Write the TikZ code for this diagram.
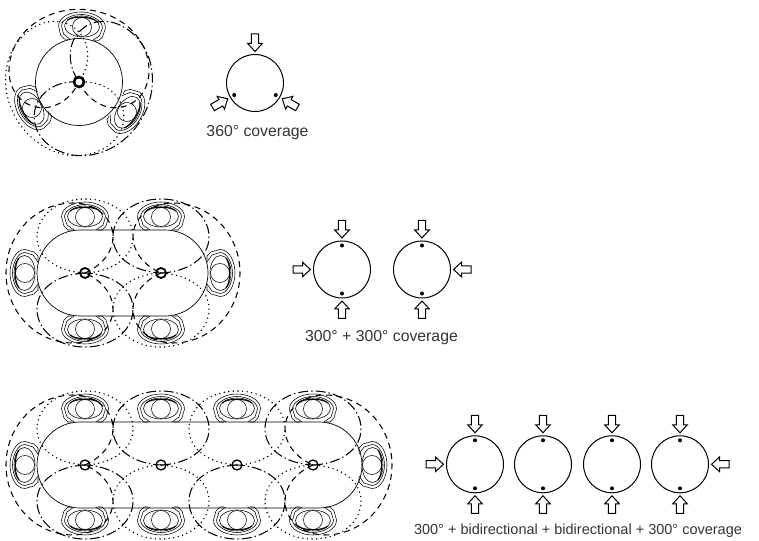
\documentclass[tikz,border=0pt]{standalone}
\usepackage{fontspec}
\setmainfont{Liberation Sans}
\begin{document}
\begin{tikzpicture}[x=1pt, y=1pt,
    table/.style={line width=0.7pt},
    mic/.style={circle, draw, inner sep=0pt, minimum size=10pt, line width=1.8pt},
    covcircle/.style={circle, draw, inner sep=0pt, minimum size=57pt, line width=1pt},
    caption/.style={text=black!80, font=\fontsize{15.8}{18}\selectfont, inner sep=0pt},
    dashlobe/.style={line width=1.05pt, dash pattern=on 6pt off 4.5pt},
    dotlobe/.style={line width=1.6pt, line cap=round, dash pattern=on 0pt off 4.6pt},
    dashdotlobe/.style={line width=1.05pt, dash pattern=on 10pt off 3pt on 1.4pt off 3pt},
    pics/seat/.style={code={
      \draw[line width=0.55pt] (0,0) circle (9.5pt);
      \draw[line width=0.55pt] (0,0.5) ellipse (17.5pt and 10.5pt);
      \draw[line width=0.55pt] (-23.5,0) .. controls (-23.5,9) and (-12,15) .. (0,15)
        .. controls (12,15) and (23.5,9) .. (23.5,0) -- (21,-9) -- (17,-13) -- (13,-13);
      \draw[line width=0.55pt] (-23.5,0) -- (-21,-9) -- (-17,-13) -- (-13,-13);
      \draw[line width=0.55pt] (-20.5,0) .. controls (-20.5,7) and (-10,12.5) .. (0,12.5)
        .. controls (10,12.5) and (20.5,7) .. (20.5,0) -- (18,-8) -- (11,-13);
      \draw[line width=0.55pt] (-20.5,0) -- (-18,-8) -- (-11,-13);
      \draw[line width=1.1pt] (-15,6) .. controls (-9,11) and (9,11) .. (15,6);
    }},
    pics/lobeup/.style={code={
      \draw (0,0) .. controls (25,1) and (48,14) .. (48,36)
        .. controls (48,58) and (27,74) .. (0,74)
        .. controls (-27,74) and (-48,58) .. (-48,36)
        .. controls (-48,14) and (-25,1) .. cycle;
    }},
    pics/lobewide/.style={code={
      \draw (0,0) .. controls (8,-18) and (22,-28) .. (36,-28)
        .. controls (56,-28) and (70,-10) .. (70,12)
        .. controls (70,50) and (38,79) .. (0,79)
        .. controls (-38,79) and (-70,50) .. (-70,12)
        .. controls (-70,-10) and (-56,-28) .. (-36,-28)
        .. controls (-22,-28) and (-8,-18) .. cycle;
    }},
    pics/inarrow/.style={code={
      \draw[line width=1pt] (31.5,0) -- (39.5,7.3) -- (39.5,3.7) -- (49,3.7)
        -- (49,-3.7) -- (39.5,-3.7) -- (39.5,-7.3) -- cycle;
    }},
    pics/micdot/.style={code={
      \fill (24,0) circle (2pt);
    }}]
  \useasboundingbox (0,0) rectangle (759,540);

  % one table, three seats
  \draw[table] (79,458) circle (43.5pt);
  \coordinate (mica) at (79,458);
  \pic[rotate=-3] at (82,513) {seat};
  \pic[rotate=119] at (32,432) {seat};
  \pic[rotate=-122] at (127,428) {seat};
  \pic[dashlobe, yscale=0.92] at (mica) {lobewide};
  \pic[dotlobe, rotate=120, yscale=0.92] at (mica) {lobewide};
  \pic[dashdotlobe, rotate=-120, yscale=0.92] at (mica) {lobewide};
  \node[mic, fill=white, line width=2.6pt] (micring) at (mica) {};

  \node[covcircle] (cova) at (255,457) {};
  \foreach \a in {90,210,330}
    \pic[rotate=\a] at (cova) {inarrow};
  \foreach \a in {210,330}
    \pic[rotate=\a] at (cova) {micdot};
  \node[caption] (capa) at (257.5,407) {360° coverage};

  % two mics
  \draw[table, rounded corners=43pt] (37,224) rectangle (208,310);
  \foreach \n/\x in {b/85,c/161} {
    \node[mic] (mic\n) at (\x,267) {};
    \pic at (\x,323) {seat};
    \pic[rotate=180] at (\x,211) {seat};
  }
  \pic[rotate=90] at (25,267) {seat};
  \pic[rotate=-90] at (220,267) {seat};
  \pic[dashlobe, rotate=90] at (micb) {lobewide};
  \pic[dotlobe] at (micb) {lobeup};
  \pic[dashdotlobe, rotate=180] at (micb) {lobeup};
  \pic[dashlobe, rotate=-90] at (micc) {lobewide};
  \pic[dashdotlobe] at (micc) {lobeup};
  \pic[dotlobe, rotate=180] at (micc) {lobeup};

  \foreach \n/\x/\s in {b/342/180,c/422/0} {
    \node[covcircle] (cov\n) at (\x,270.5) {};
    \foreach \a in {90,\s,270}
      \pic[rotate=\a] at (cov\n) {inarrow};
    \foreach \a in {90,270}
      \pic[rotate=\a] at (cov\n) {micdot};
  }
  \node[caption] (capb) at (381.5,202) {300° + 300° coverage};

  % four mics
  \draw[table, rounded corners=43pt] (37,32) rectangle (362,118);
  \foreach \n/\x in {d/85,e/161,f/237,g/313} {
    \node[mic, line width=1.3pt] (mic\n) at (\x,75) {};
    \pic at (\x,131) {seat};
    \pic[rotate=180] at (\x,20) {seat};
  }
  \pic[rotate=90] at (25,75) {seat};
  \pic[rotate=-90] at (372,75) {seat};
  \pic[dashlobe, rotate=90] at (micd) {lobewide};
  \pic[dashlobe, rotate=-90] at (micg) {lobewide};
  \foreach \n/\u/\l in {d/dotlobe/dashdotlobe,e/dashdotlobe/dotlobe,f/dotlobe/dashdotlobe,g/dashdotlobe/dotlobe} {
    \pic[\u] at (mic\n) {lobeup};
    \pic[\l, rotate=180] at (mic\n) {lobeup};
  }

  \foreach \n/\x in {d/475,e/543,f/612,g/680} {
    \node[covcircle] (cov\n) at (\x,75.7) {};
    \foreach \a in {90,270} {
      \pic[rotate=\a] at (cov\n) {inarrow};
      \pic[rotate=\a] at (cov\n) {micdot};
    }
  }
  \pic[rotate=180] at (covd) {inarrow};
  \pic at (covg) {inarrow};
  \node[caption, font=\fontsize{14.5}{17}\selectfont] (capc) at (578,9.5) {300° + bidirectional + bidirectional + 300° coverage};
\end{tikzpicture}
\end{document}
